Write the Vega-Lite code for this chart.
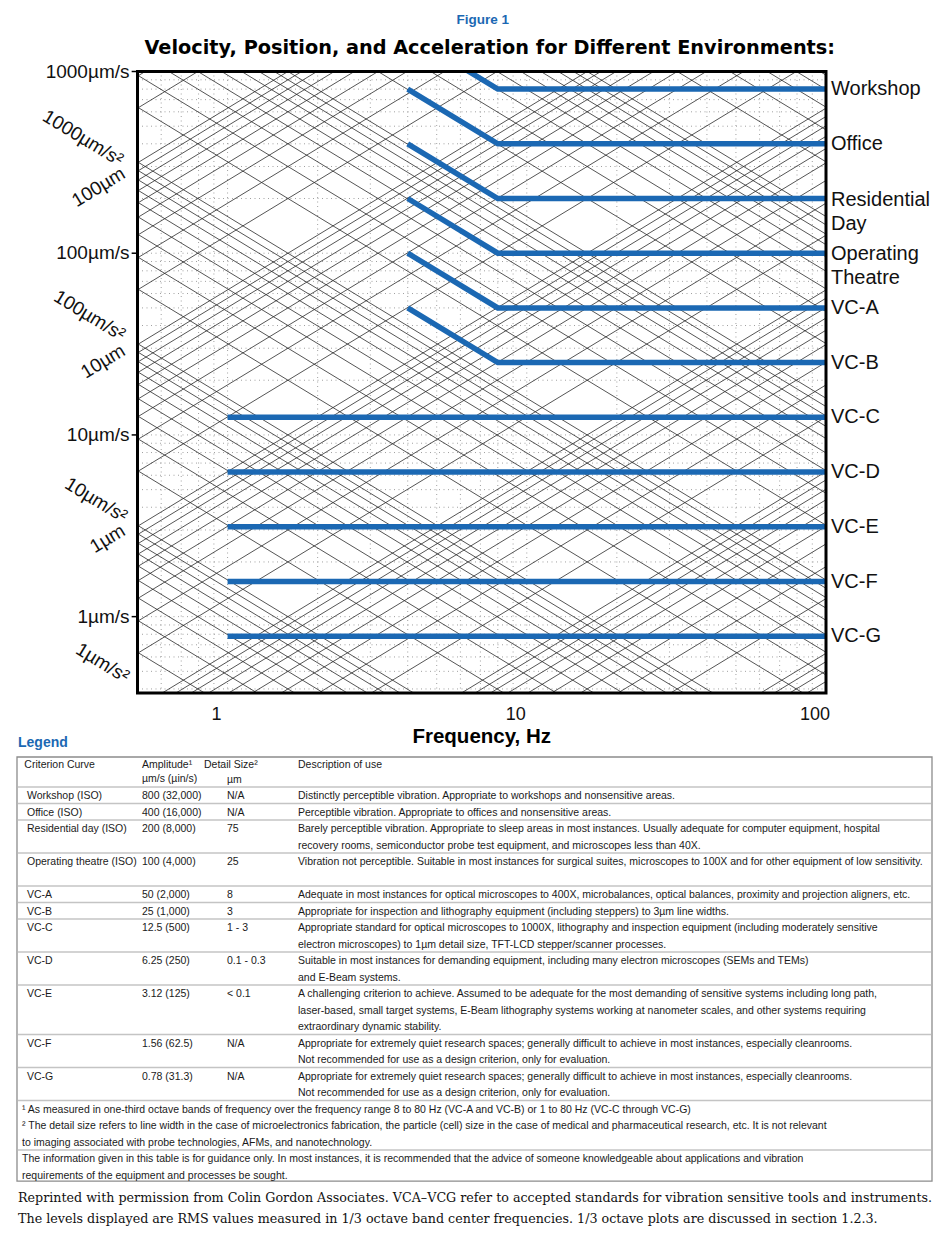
{
  "$schema": "https://vega.github.io/schema/vega-lite/v6.json",
  "width": 950,
  "height": 1234,
  "autosize": {"type": "none"},
  "padding": 0,
  "background": "white",
  "config": {"view": {"stroke": null}, "text": {"font": "Liberation Sans"}},
  "datasets": {
    "vgrid": [{"f":0.6},{"f":0.7},{"f":0.8},{"f":0.9},{"f":1},{"f":2},{"f":3},{"f":4},{"f":5},{"f":6},{"f":7},{"f":8},{"f":9},{"f":10},{"f":20},{"f":30},{"f":40},{"f":50},{"f":60},{"f":70},{"f":80},{"f":90}],
    "hgrid": [{"v":0.4},{"v":0.5},{"v":0.6},{"v":0.7},{"v":0.8},{"v":0.9},{"v":1},{"v":2},{"v":3},{"v":4},{"v":5},{"v":6},{"v":7},{"v":8},{"v":9},{"v":10},{"v":20},{"v":30},{"v":40},{"v":50},{"v":60},{"v":70},{"v":80},{"v":90},{"v":100},{"v":200},{"v":300},{"v":400},{"v":500},{"v":600},{"v":700},{"v":800},{"v":900}],
    "diag": [
      {"v1":0.63662,"v2":0.0031831},{"v1":0.95493,"v2":0.0047746},{"v1":1.27324,"v2":0.0063662},{"v1":1.59155,"v2":0.0079577},{"v1":1.90986,"v2":0.0095493},{"v1":2.22817,"v2":0.011141},{"v1":2.54648,"v2":0.012732},{"v1":2.86479,"v2":0.014324},
      {"v1":3.1831,"v2":0.015915},{"v1":6.3662,"v2":0.031831},{"v1":9.5493,"v2":0.047746},{"v1":12.732,"v2":0.063662},{"v1":15.915,"v2":0.079577},{"v1":19.099,"v2":0.095493},{"v1":22.282,"v2":0.11141},{"v1":25.465,"v2":0.12732},{"v1":28.648,"v2":0.14324},
      {"v1":31.831,"v2":0.15915},{"v1":63.662,"v2":0.31831},{"v1":95.493,"v2":0.47746},{"v1":127.32,"v2":0.63662},{"v1":159.15,"v2":0.79577},{"v1":190.99,"v2":0.95493},{"v1":222.82,"v2":1.1141},{"v1":254.65,"v2":1.2732},{"v1":286.48,"v2":1.4324},
      {"v1":318.31,"v2":1.5915},{"v1":636.62,"v2":3.1831},{"v1":954.93,"v2":4.7746},{"v1":1273.2,"v2":6.3662},{"v1":1591.5,"v2":7.9577},{"v1":1909.9,"v2":9.5493},{"v1":2228.2,"v2":11.141},{"v1":2546.5,"v2":12.732},{"v1":2864.8,"v2":14.324},
      {"v1":3183.1,"v2":15.915},{"v1":6366.2,"v2":31.831},{"v1":9549.3,"v2":47.746},{"v1":12732,"v2":63.662},{"v1":15915,"v2":79.577},{"v1":19099,"v2":95.493},{"v1":22282,"v2":111.41},{"v1":25465,"v2":127.32},{"v1":28648,"v2":143.24},
      {"v1":31831,"v2":159.15},{"v1":63662,"v2":318.31},{"v1":95493,"v2":477.46},{"v1":127324,"v2":636.62},{"v1":159155,"v2":795.77},{"v1":190986,"v2":954.93},
      {"v1":0.001885,"v2":0.37699},{"v1":0.0021991,"v2":0.43982},{"v1":0.0025133,"v2":0.50265},{"v1":0.0028274,"v2":0.56549},
      {"v1":0.0031416,"v2":0.62832},{"v1":0.0062832,"v2":1.2566},{"v1":0.0094248,"v2":1.885},{"v1":0.012566,"v2":2.5133},{"v1":0.015708,"v2":3.1416},{"v1":0.01885,"v2":3.7699},{"v1":0.021991,"v2":4.3982},{"v1":0.025133,"v2":5.0265},{"v1":0.028274,"v2":5.6549},
      {"v1":0.031416,"v2":6.2832},{"v1":0.062832,"v2":12.566},{"v1":0.094248,"v2":18.85},{"v1":0.12566,"v2":25.133},{"v1":0.15708,"v2":31.416},{"v1":0.1885,"v2":37.699},{"v1":0.21991,"v2":43.982},{"v1":0.25133,"v2":50.265},{"v1":0.28274,"v2":56.549},
      {"v1":0.31416,"v2":62.832},{"v1":0.62832,"v2":125.66},{"v1":0.94248,"v2":188.5},{"v1":1.2566,"v2":251.33},{"v1":1.5708,"v2":314.16},{"v1":1.885,"v2":376.99},{"v1":2.1991,"v2":439.82},{"v1":2.5133,"v2":502.65},{"v1":2.8274,"v2":565.49},
      {"v1":3.1416,"v2":628.32},{"v1":6.2832,"v2":1256.6},{"v1":9.4248,"v2":1885},{"v1":12.566,"v2":2513.3},{"v1":15.708,"v2":3141.6},{"v1":18.85,"v2":3769.9},{"v1":21.991,"v2":4398.2},{"v1":25.133,"v2":5026.5},{"v1":28.274,"v2":5654.9},
      {"v1":31.416,"v2":6283.2},{"v1":62.832,"v2":12566},{"v1":94.248,"v2":18850},{"v1":125.66,"v2":25133},{"v1":157.08,"v2":31416},{"v1":188.5,"v2":37699},{"v1":219.91,"v2":43982},{"v1":251.33,"v2":50265},{"v1":282.74,"v2":56549},
      {"v1":314.16,"v2":62832},{"v1":628.32,"v2":125664},{"v1":942.48,"v2":188496}
    ],
    "curves": [
      {"curve":"Workshop","f":4,"v":1600},{"curve":"Workshop","f":8,"v":800},{"curve":"Workshop","f":100,"v":800},
      {"curve":"Office","f":4,"v":800},{"curve":"Office","f":8,"v":400},{"curve":"Office","f":100,"v":400},
      {"curve":"Residential Day","f":4,"v":400},{"curve":"Residential Day","f":8,"v":200},{"curve":"Residential Day","f":100,"v":200},
      {"curve":"Operating Theatre","f":4,"v":200},{"curve":"Operating Theatre","f":8,"v":100},{"curve":"Operating Theatre","f":100,"v":100},
      {"curve":"VC-A","f":4,"v":100},{"curve":"VC-A","f":8,"v":50},{"curve":"VC-A","f":100,"v":50},
      {"curve":"VC-B","f":4,"v":50},{"curve":"VC-B","f":8,"v":25},{"curve":"VC-B","f":100,"v":25},
      {"curve":"VC-C","f":1,"v":12.5},{"curve":"VC-C","f":100,"v":12.5},
      {"curve":"VC-D","f":1,"v":6.25},{"curve":"VC-D","f":100,"v":6.25},
      {"curve":"VC-E","f":1,"v":3.12},{"curve":"VC-E","f":100,"v":3.12},
      {"curve":"VC-F","f":1,"v":1.56},{"curve":"VC-F","f":100,"v":1.56},
      {"curve":"VC-G","f":1,"v":0.78},{"curve":"VC-G","f":100,"v":0.78}
    ],
    "rlab": [{"label":"Workshop","v":800},{"label":"Office","v":400},{"label":"VC-A","v":50},{"label":"VC-B","v":25},{"label":"VC-C","v":12.5},{"label":"VC-D","v":6.25},{"label":"VC-E","v":3.12},{"label":"VC-F","v":1.56},{"label":"VC-G","v":0.78}],
    "rlab2": [{"label":["Residential","Day"],"v":200},{"label":["Operating","Theatre"],"v":100}],
    "ylab": [{"label":"1000µm/s","v":1000},{"label":"100µm/s","v":100},{"label":"10µm/s","v":10},{"label":"1µm/s","v":1}],
    "xlab": [{"label":"1","f":1},{"label":"10","f":10},{"label":"100","f":100}],
    "alab": [{"label":"1000µm/s²","f":0.442,"v":320},{"label":"100µm/s²","f":0.449,"v":34.97},{"label":"10µm/s²","f":0.456,"v":3.493},{"label":"1µm/s²","f":0.463,"v":0.459}],
    "dlab": [{"label":"100µm","f":0.449,"v":280},{"label":"10µm","f":0.449,"v":29.7},{"label":"1µm","f":0.449,"v":3.034}],
    "table": [
      {"curve":"Workshop (ISO)","amp":"800 (32,000)","detail":"N/A","desc":"Distinctly perceptible vibration. Appropriate to workshops and nonsensitive areas.","L":0},
      {"curve":"Office (ISO)","amp":"400 (16,000)","detail":"N/A","desc":"Perceptible vibration. Appropriate to offices and nonsensitive areas.","L":1},
      {"curve":"Residential day (ISO)","amp":"200 (8,000)","detail":"75","desc":["Barely perceptible vibration. Appropriate to sleep areas in most instances. Usually adequate for computer equipment, hospital","recovery rooms, semiconductor probe test equipment, and microscopes less than 40X."],"L":2},
      {"curve":"Operating theatre (ISO)","amp":"100 (4,000)","detail":"25","desc":"Vibration not perceptible. Suitable in most instances for surgical suites, microscopes to 100X and for other equipment of low sensitivity.","L":4},
      {"curve":"VC-A","amp":"50 (2,000)","detail":"8","desc":"Adequate in most instances for optical microscopes to 400X, microbalances, optical balances, proximity and projection aligners, etc.","L":6},
      {"curve":"VC-B","amp":"25 (1,000)","detail":"3","desc":"Appropriate for inspection and lithography equipment (including steppers) to 3µm line widths.","L":7},
      {"curve":"VC-C","amp":"12.5 (500)","detail":"1 - 3","desc":["Appropriate standard for optical microscopes to 1000X, lithography and inspection equipment (including moderately sensitive","electron microscopes) to 1µm detail size, TFT-LCD stepper/scanner processes."],"L":8},
      {"curve":"VC-D","amp":"6.25 (250)","detail":"0.1 - 0.3","desc":["Suitable in most instances for demanding equipment, including many electron microscopes (SEMs and TEMs)","and E-Beam systems."],"L":10},
      {"curve":"VC-E","amp":"3.12 (125)","detail":"< 0.1","desc":["A challenging criterion to achieve. Assumed to be adequate for the most demanding of sensitive systems including long path,","laser-based, small target systems, E-Beam lithography systems working at nanometer scales, and other systems requiring","extraordinary dynamic stability."],"L":12},
      {"curve":"VC-F","amp":"1.56 (62.5)","detail":"N/A","desc":["Appropriate for extremely quiet research spaces; generally difficult to achieve in most instances, especially cleanrooms.","Not recommended for use as a design criterion, only for evaluation."],"L":15},
      {"curve":"VC-G","amp":"0.78 (31.3)","detail":"N/A","desc":["Appropriate for extremely quiet research spaces; generally difficult to achieve in most instances, especially cleanrooms.","Not recommended for use as a design criterion, only for evaluation."],"L":17}
    ],
    "notes": [
      {"t":"¹ As measured in one-third octave bands of frequency over the frequency range 8 to 80 Hz (VC-A and VC-B) or 1 to 80 Hz (VC-C through VC-G)","L":19,"rule":true},
      {"t":["² The detail size refers to line width in the case of microelectronics fabrication, the particle (cell) size in the case of medical and pharmaceutical research, etc. It is not relevant","to imaging associated with probe technologies, AFMs, and nanotechnology."],"L":20,"rule":false},
      {"t":["The information given in this table is for guidance only. In most instances, it is recommended that the advice of someone knowledgeable about applications and vibration","requirements of the equipment and processes be sought."],"L":22,"rule":true}
    ],
    "hdr": [{"c1":"Criterion Curve","c2":["Amplitude¹","µm/s  (µin/s)"],"c3":"Detail Size²","c3b":"µm","c4":"Description of use"}]
  },
  "layer": [
    {
      "layer": [
        {
          "data": {"name": "vgrid"},
          "mark": {"type": "rule", "stroke": "#a0a0a0", "strokeWidth": 1, "strokeDash": [1, 3.5]},
          "encoding": {
            "x": {"field": "f", "type": "quantitative", "scale": {"type": "log", "domain": [0.5, 100], "range": [137.5, 826], "nice": false}, "axis": null},
            "y": {"datum": 0.38, "scale": {"type": "log", "domain": [0.38, 1000], "range": [693, 71.5], "nice": false}, "axis": null},
            "y2": {"datum": 1000}
          }
        },
        {
          "data": {"name": "hgrid"},
          "mark": {"type": "rule", "stroke": "#a0a0a0", "strokeWidth": 1, "strokeDash": [1, 3.5]},
          "encoding": {
            "y": {"field": "v", "type": "quantitative", "scale": {"type": "log", "domain": [0.38, 1000], "range": [693, 71.5], "nice": false}, "axis": null},
            "x": {"datum": 0.5, "scale": {"type": "log", "domain": [0.5, 100], "range": [137.5, 826], "nice": false}, "axis": null},
            "x2": {"datum": 100}
          }
        },
        {
          "data": {"name": "diag"},
          "mark": {"type": "rule", "stroke": "#2a2a2a", "strokeWidth": 0.8},
          "encoding": {
            "x": {"datum": 0.5, "scale": {"type": "log", "domain": [0.5, 100], "range": [137.5, 826], "nice": false}, "axis": null},
            "x2": {"datum": 100},
            "y": {"field": "v1", "type": "quantitative", "scale": {"type": "log", "domain": [0.38, 1000], "range": [693, 71.5], "nice": false}, "axis": null},
            "y2": {"field": "v2"}
          }
        },
        {
          "data": {"name": "curves"},
          "mark": {"type": "line", "stroke": "#1b68b3", "strokeWidth": 5.5, "strokeCap": "butt", "strokeJoin": "miter"},
          "encoding": {
            "x": {"field": "f", "type": "quantitative", "scale": {"type": "log", "domain": [0.5, 100], "range": [137.5, 826], "nice": false}, "axis": null},
            "y": {"field": "v", "type": "quantitative", "scale": {"type": "log", "domain": [0.38, 1000], "range": [693, 71.5], "nice": false}, "axis": null},
            "detail": {"field": "curve", "type": "nominal"}
          }
        },
        {
          "data": {"values": [{"mask": "top"}]},
          "mark": {"type": "rect", "fill": "#ffffff", "strokeWidth": 0},
          "encoding": {
            "x": {"datum": 0.0001, "scale": {"type": "log", "domain": [0.5, 100], "range": [137.5, 826], "nice": false}, "axis": null},
            "x2": {"datum": 100000},
            "y": {"datum": 1000, "scale": {"type": "log", "domain": [0.38, 1000], "range": [693, 71.5], "nice": false}, "axis": null},
            "y2": {"datum": 1000000000}
          }
        },
        {
          "data": {"values": [{"mask": "bottom"}]},
          "mark": {"type": "rect", "fill": "#ffffff", "strokeWidth": 0},
          "encoding": {
            "x": {"datum": 0.0001, "scale": {"type": "log", "domain": [0.5, 100], "range": [137.5, 826], "nice": false}, "axis": null},
            "x2": {"datum": 100000},
            "y": {"datum": 0.000000001, "scale": {"type": "log", "domain": [0.38, 1000], "range": [693, 71.5], "nice": false}, "axis": null},
            "y2": {"datum": 0.38}
          }
        },
        {
          "data": {"values": [{"mask": "left"}]},
          "mark": {"type": "rect", "fill": "#ffffff", "strokeWidth": 0},
          "encoding": {
            "x": {"datum": 0.0001, "scale": {"type": "log", "domain": [0.5, 100], "range": [137.5, 826], "nice": false}, "axis": null},
            "x2": {"datum": 0.5},
            "y": {"datum": 0.000000001, "scale": {"type": "log", "domain": [0.38, 1000], "range": [693, 71.5], "nice": false}, "axis": null},
            "y2": {"datum": 1000000000}
          }
        },
        {
          "data": {"values": [{"mask": "right"}]},
          "mark": {"type": "rect", "fill": "#ffffff", "strokeWidth": 0},
          "encoding": {
            "x": {"datum": 100, "scale": {"type": "log", "domain": [0.5, 100], "range": [137.5, 826], "nice": false}, "axis": null},
            "x2": {"datum": 100000},
            "y": {"datum": 0.000000001, "scale": {"type": "log", "domain": [0.38, 1000], "range": [693, 71.5], "nice": false}, "axis": null},
            "y2": {"datum": 1000000000}
          }
        },
        {
          "data": {"values": [{"frame": "plot"}]},
          "mark": {"type": "rect", "filled": false, "stroke": "#000000", "strokeWidth": 3},
          "encoding": {
            "x": {"datum": 0.5, "scale": {"type": "log", "domain": [0.5, 100], "range": [137.5, 826], "nice": false}, "axis": null},
            "x2": {"datum": 100},
            "y": {"datum": 0.38, "scale": {"type": "log", "domain": [0.38, 1000], "range": [693, 71.5], "nice": false}, "axis": null},
            "y2": {"datum": 1000}
          }
        },
        {
          "data": {"name": "ylab"},
          "mark": {"type": "rule", "stroke": "#000000", "strokeWidth": 1.5},
          "encoding": {
            "x": {"datum": 0.478, "scale": {"type": "log", "domain": [0.5, 100], "range": [137.5, 826], "nice": false}, "axis": null},
            "x2": {"datum": 0.5},
            "y": {"field": "v", "type": "quantitative", "scale": {"type": "log", "domain": [0.38, 1000], "range": [693, 71.5], "nice": false}, "axis": null}
          }
        },
        {
          "data": {"name": "ylab"},
          "mark": {"type": "text", "align": "right", "baseline": "middle", "dx": -8, "fontSize": 19, "color": "#111111"},
          "encoding": {
            "x": {"datum": 0.5, "scale": {"type": "log", "domain": [0.5, 100], "range": [137.5, 826], "nice": false}, "axis": null},
            "y": {"field": "v", "type": "quantitative", "scale": {"type": "log", "domain": [0.38, 1000], "range": [693, 71.5], "nice": false}, "axis": null},
            "text": {"field": "label", "type": "nominal"}
          }
        },
        {
          "data": {"name": "xlab"},
          "mark": {"type": "text", "align": "center", "baseline": "middle", "dx": -11, "dy": 22, "fontSize": 18, "color": "#111111"},
          "encoding": {
            "x": {"field": "f", "type": "quantitative", "scale": {"type": "log", "domain": [0.5, 100], "range": [137.5, 826], "nice": false}, "axis": null},
            "y": {"datum": 0.38, "scale": {"type": "log", "domain": [0.38, 1000], "range": [693, 71.5], "nice": false}, "axis": null},
            "text": {"field": "label", "type": "nominal"}
          }
        },
        {
          "data": {"name": "alab"},
          "mark": {"type": "text", "align": "right", "baseline": "middle", "angle": 31.3, "fontSize": 19, "color": "#111111"},
          "encoding": {
            "x": {"field": "f", "type": "quantitative", "scale": {"type": "log", "domain": [0.5, 100], "range": [137.5, 826], "nice": false}, "axis": null},
            "y": {"field": "v", "type": "quantitative", "scale": {"type": "log", "domain": [0.38, 1000], "range": [693, 71.5], "nice": false}, "axis": null},
            "text": {"field": "label", "type": "nominal"}
          }
        },
        {
          "data": {"name": "dlab"},
          "mark": {"type": "text", "align": "right", "baseline": "middle", "angle": 328.7, "fontSize": 19, "color": "#111111"},
          "encoding": {
            "x": {"field": "f", "type": "quantitative", "scale": {"type": "log", "domain": [0.5, 100], "range": [137.5, 826], "nice": false}, "axis": null},
            "y": {"field": "v", "type": "quantitative", "scale": {"type": "log", "domain": [0.38, 1000], "range": [693, 71.5], "nice": false}, "axis": null},
            "text": {"field": "label", "type": "nominal"}
          }
        },
        {
          "data": {"name": "rlab"},
          "mark": {"type": "text", "align": "left", "baseline": "middle", "dx": 5, "fontSize": 20, "color": "#111111"},
          "encoding": {
            "x": {"datum": 100, "scale": {"type": "log", "domain": [0.5, 100], "range": [137.5, 826], "nice": false}, "axis": null},
            "y": {"field": "v", "type": "quantitative", "scale": {"type": "log", "domain": [0.38, 1000], "range": [693, 71.5], "nice": false}, "axis": null},
            "text": {"field": "label", "type": "nominal"}
          }
        },
        {
          "data": {"name": "rlab2"},
          "mark": {"type": "text", "align": "left", "baseline": "top", "dx": 5, "dy": -9, "lineHeight": 24, "fontSize": 20, "color": "#111111"},
          "encoding": {
            "x": {"datum": 100, "scale": {"type": "log", "domain": [0.5, 100], "range": [137.5, 826], "nice": false}, "axis": null},
            "y": {"field": "v", "type": "quantitative", "scale": {"type": "log", "domain": [0.38, 1000], "range": [693, 71.5], "nice": false}, "axis": null},
            "text": {"field": "label", "type": "nominal"}
          }
        },
        {
          "data": {"values": [{"t": "Figure 1"}]},
          "mark": {"type": "text", "align": "center", "baseline": "middle", "dy": -51.5, "fontSize": 13.5, "fontWeight": "bold", "color": "#1b68b3"},
          "encoding": {
            "x": {"datum": 7.13, "scale": {"type": "log", "domain": [0.5, 100], "range": [137.5, 826], "nice": false}, "axis": null},
            "y": {"datum": 1000, "scale": {"type": "log", "domain": [0.38, 1000], "range": [693, 71.5], "nice": false}, "axis": null},
            "text": {"field": "t", "type": "nominal"}
          }
        },
        {
          "data": {"values": [{"t": "Velocity, Position, and Acceleration for Different Environments:"}]},
          "mark": {"type": "text", "align": "center", "baseline": "middle", "dy": -23.5, "fontSize": 19.3, "fontWeight": "bold", "font": "DejaVu Sans", "color": "#000000"},
          "encoding": {
            "x": {"datum": 7.52, "scale": {"type": "log", "domain": [0.5, 100], "range": [137.5, 826], "nice": false}, "axis": null},
            "y": {"datum": 1000, "scale": {"type": "log", "domain": [0.38, 1000], "range": [693, 71.5], "nice": false}, "axis": null},
            "text": {"field": "t", "type": "nominal"}
          }
        },
        {
          "data": {"values": [{"t": "Frequency, Hz"}]},
          "mark": {"type": "text", "align": "center", "baseline": "middle", "dy": 44, "fontSize": 20.5, "fontWeight": "bold", "color": "#000000"},
          "encoding": {
            "x": {"datum": 7.07, "scale": {"type": "log", "domain": [0.5, 100], "range": [137.5, 826], "nice": false}, "axis": null},
            "y": {"datum": 0.38, "scale": {"type": "log", "domain": [0.38, 1000], "range": [693, 71.5], "nice": false}, "axis": null},
            "text": {"field": "t", "type": "nominal"}
          }
        }
      ]
    },
    {
      "layer": [
        {
          "data": {"values": [{"frame": "table"}]},
          "mark": {"type": "rect", "filled": false, "stroke": "#8c8c8c", "strokeWidth": 1.3},
          "encoding": {
            "x": {"datum": 0, "scale": {"type": "linear", "domain": [0, 100], "range": [17, 932], "nice": false, "zero": false}, "axis": null},
            "x2": {"datum": 100},
            "y": {"datum": -2.06, "scale": {"type": "linear", "domain": [0, 24], "range": [791, 1187], "nice": false, "zero": false}, "axis": null},
            "y2": {"datum": 23.64}
          }
        },
        {
          "data": {"name": "table"},
          "mark": {"type": "rule", "stroke": "#c4c4c4", "strokeWidth": 1.6, "yOffset": -4},
          "encoding": {
            "x": {"datum": 0.1, "scale": {"type": "linear", "domain": [0, 100], "range": [17, 932], "nice": false, "zero": false}, "axis": null},
            "x2": {"datum": 99.9},
            "y": {"field": "L", "type": "quantitative", "scale": {"type": "linear", "domain": [0, 24], "range": [791, 1187], "nice": false, "zero": false}, "axis": null}
          }
        },
        {
          "data": {"name": "notes"},
          "transform": [{"filter": "datum.rule"}],
          "mark": {"type": "rule", "stroke": "#c4c4c4", "strokeWidth": 1.6, "yOffset": -4},
          "encoding": {
            "x": {"datum": 0.1, "scale": {"type": "linear", "domain": [0, 100], "range": [17, 932], "nice": false, "zero": false}, "axis": null},
            "x2": {"datum": 99.9},
            "y": {"field": "L", "type": "quantitative", "scale": {"type": "linear", "domain": [0, 24], "range": [791, 1187], "nice": false, "zero": false}, "axis": null}
          }
        },
        {
          "data": {"name": "table"},
          "mark": {"type": "text", "align": "left", "baseline": "top", "fontSize": 10.5, "lineHeight": 16.5, "color": "#1a1a1a"},
          "encoding": {
            "x": {"datum": 1.09, "scale": {"type": "linear", "domain": [0, 100], "range": [17, 932], "nice": false, "zero": false}, "axis": null},
            "y": {"field": "L", "type": "quantitative", "scale": {"type": "linear", "domain": [0, 24], "range": [791, 1187], "nice": false, "zero": false}, "axis": null},
            "text": {"field": "curve", "type": "nominal"}
          }
        },
        {
          "data": {"name": "table"},
          "mark": {"type": "text", "align": "left", "baseline": "top", "fontSize": 10.5, "lineHeight": 16.5, "color": "#1a1a1a"},
          "encoding": {
            "x": {"datum": 13.66, "scale": {"type": "linear", "domain": [0, 100], "range": [17, 932], "nice": false, "zero": false}, "axis": null},
            "y": {"field": "L", "type": "quantitative", "scale": {"type": "linear", "domain": [0, 24], "range": [791, 1187], "nice": false, "zero": false}, "axis": null},
            "text": {"field": "amp", "type": "nominal"}
          }
        },
        {
          "data": {"name": "table"},
          "mark": {"type": "text", "align": "left", "baseline": "top", "fontSize": 10.5, "lineHeight": 16.5, "color": "#1a1a1a"},
          "encoding": {
            "x": {"datum": 22.95, "scale": {"type": "linear", "domain": [0, 100], "range": [17, 932], "nice": false, "zero": false}, "axis": null},
            "y": {"field": "L", "type": "quantitative", "scale": {"type": "linear", "domain": [0, 24], "range": [791, 1187], "nice": false, "zero": false}, "axis": null},
            "text": {"field": "detail", "type": "nominal"}
          }
        },
        {
          "data": {"name": "table"},
          "mark": {"type": "text", "align": "left", "baseline": "top", "fontSize": 10.5, "lineHeight": 16.5, "color": "#1a1a1a"},
          "encoding": {
            "x": {"datum": 30.71, "scale": {"type": "linear", "domain": [0, 100], "range": [17, 932], "nice": false, "zero": false}, "axis": null},
            "y": {"field": "L", "type": "quantitative", "scale": {"type": "linear", "domain": [0, 24], "range": [791, 1187], "nice": false, "zero": false}, "axis": null},
            "text": {"field": "desc", "type": "nominal"}
          }
        },
        {
          "data": {"name": "notes"},
          "mark": {"type": "text", "align": "left", "baseline": "top", "fontSize": 10.5, "lineHeight": 16.5, "color": "#1a1a1a"},
          "encoding": {
            "x": {"datum": 0.55, "scale": {"type": "linear", "domain": [0, 100], "range": [17, 932], "nice": false, "zero": false}, "axis": null},
            "y": {"field": "L", "type": "quantitative", "scale": {"type": "linear", "domain": [0, 24], "range": [791, 1187], "nice": false, "zero": false}, "axis": null},
            "text": {"field": "t", "type": "nominal"}
          }
        },
        {
          "data": {"name": "hdr"},
          "mark": {"type": "text", "align": "left", "baseline": "top", "fontSize": 10.5, "lineHeight": 14, "color": "#1a1a1a"},
          "encoding": {
            "x": {"datum": 0.8, "scale": {"type": "linear", "domain": [0, 100], "range": [17, 932], "nice": false, "zero": false}, "axis": null},
            "y": {"datum": -1.85, "scale": {"type": "linear", "domain": [0, 24], "range": [791, 1187], "nice": false, "zero": false}, "axis": null},
            "text": {"field": "c1", "type": "nominal"}
          }
        },
        {
          "data": {"name": "hdr"},
          "mark": {"type": "text", "align": "left", "baseline": "top", "fontSize": 10.5, "lineHeight": 14, "color": "#1a1a1a"},
          "encoding": {
            "x": {"datum": 13.66, "scale": {"type": "linear", "domain": [0, 100], "range": [17, 932], "nice": false, "zero": false}, "axis": null},
            "y": {"datum": -1.85, "scale": {"type": "linear", "domain": [0, 24], "range": [791, 1187], "nice": false, "zero": false}, "axis": null},
            "text": {"field": "c2", "type": "nominal"}
          }
        },
        {
          "data": {"name": "hdr"},
          "mark": {"type": "text", "align": "left", "baseline": "top", "fontSize": 10.5, "color": "#1a1a1a"},
          "encoding": {
            "x": {"datum": 20.44, "scale": {"type": "linear", "domain": [0, 100], "range": [17, 932], "nice": false, "zero": false}, "axis": null},
            "y": {"datum": -1.85, "scale": {"type": "linear", "domain": [0, 24], "range": [791, 1187], "nice": false, "zero": false}, "axis": null},
            "text": {"field": "c3", "type": "nominal"}
          }
        },
        {
          "data": {"name": "hdr"},
          "mark": {"type": "text", "align": "left", "baseline": "top", "fontSize": 10.5, "color": "#1a1a1a"},
          "encoding": {
            "x": {"datum": 22.95, "scale": {"type": "linear", "domain": [0, 100], "range": [17, 932], "nice": false, "zero": false}, "axis": null},
            "y": {"datum": -1.0, "scale": {"type": "linear", "domain": [0, 24], "range": [791, 1187], "nice": false, "zero": false}, "axis": null},
            "text": {"field": "c3b", "type": "nominal"}
          }
        },
        {
          "data": {"name": "hdr"},
          "mark": {"type": "text", "align": "left", "baseline": "top", "fontSize": 10.5, "color": "#1a1a1a"},
          "encoding": {
            "x": {"datum": 30.71, "scale": {"type": "linear", "domain": [0, 100], "range": [17, 932], "nice": false, "zero": false}, "axis": null},
            "y": {"datum": -1.85, "scale": {"type": "linear", "domain": [0, 24], "range": [791, 1187], "nice": false, "zero": false}, "axis": null},
            "text": {"field": "c4", "type": "nominal"}
          }
        },
        {
          "data": {"values": [{"t": "Legend"}]},
          "mark": {"type": "text", "align": "left", "baseline": "middle", "fontSize": 14, "fontWeight": "bold", "color": "#1b68b3"},
          "encoding": {
            "x": {"datum": 0.11, "scale": {"type": "linear", "domain": [0, 100], "range": [17, 932], "nice": false, "zero": false}, "axis": null},
            "y": {"datum": -2.91, "scale": {"type": "linear", "domain": [0, 24], "range": [791, 1187], "nice": false, "zero": false}, "axis": null},
            "text": {"field": "t", "type": "nominal"}
          }
        },
        {
          "data": {"values": [{"t": ["Reprinted with permission from Colin Gordon Associates. VCA–VCG refer to accepted standards for vibration sensitive tools and instruments.", "The levels displayed are RMS values measured in 1/3 octave band center frequencies. 1/3 octave plots are discussed in section 1.2.3."]}]},
          "mark": {"type": "text", "align": "left", "baseline": "top", "fontSize": 12.7, "lineHeight": 21, "font": "DejaVu Serif", "color": "#111111"},
          "encoding": {
            "x": {"datum": 0.11, "scale": {"type": "linear", "domain": [0, 100], "range": [17, 932], "nice": false, "zero": false}, "axis": null},
            "y": {"datum": 24.3, "scale": {"type": "linear", "domain": [0, 24], "range": [791, 1187], "nice": false, "zero": false}, "axis": null},
            "text": {"field": "t", "type": "nominal"}
          }
        }
      ]
    }
  ],
  "resolve": {"scale": {"x": "independent", "y": "independent"}}
}
